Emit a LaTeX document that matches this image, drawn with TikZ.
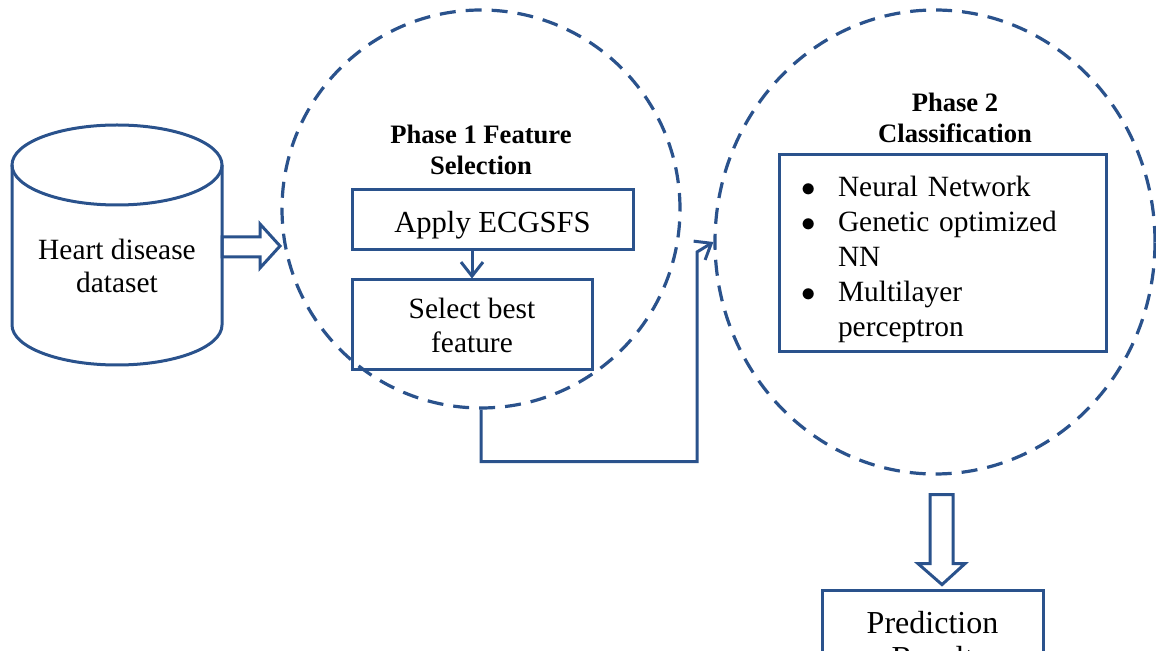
\documentclass[tikz,border=0pt]{standalone}
\usepackage{fontspec}
\setmainfont{Liberation Serif}
\usetikzlibrary{shapes.geometric,arrows.meta}
\definecolor{lineblue}{RGB}{42,82,140}

\tikzset{
  box/.style={draw=lineblue, line width=1.5pt, align=center, inner sep=0pt,
    font=\fontsize{14.7}{17}\selectfont},
  phase/.style={draw=lineblue, line width=1.6pt, dash pattern=on 8pt off 5pt},
  title/.style={align=center, font=\fontsize{13.3}{15.5}\selectfont\bfseries},
  hollow/.style={draw=lineblue, line width=1.5pt, line join=miter},
  conn/.style={draw=lineblue, line width=1.5pt, -{Straight Barb[length=7pt,width=11pt]}},
}

\begin{document}
\begin{tikzpicture}[x=0.5pt, y=-0.5pt]
  \clip (0,0) rectangle (1156,651);
  % Phases
  \node[phase, circle, minimum size=199pt] (p1) at (481,209) {};
  \node[phase, ellipse, minimum width=220pt, minimum height=232pt] (p2) at (935,242) {};
  % Data
  \node[minimum width=105pt, minimum height=120pt, inner sep=0pt, outer sep=0pt] (data) at (117,245) {};
  \draw[hollow] (data.north west) ++(0,40) -- ++(0,160)
    arc[start angle=180, end angle=0, x radius=105, y radius=40] -- ++(0,-160);
  \draw[hollow] (data.north) ++(0,40) ellipse [x radius=105, y radius=40];
  \node[align=center, font=\fontsize{14.7}{16.5}\selectfont] (dataname) at (117,266) {Heart disease\\dataset};
  \draw[hollow] (data.east) ++(0,-8) -- ++(38,0) -- ++(0,-13) -- ++(20,22) -- ++(-20,22)
    -- ++(0,-11) -- ++(-38,0) -- cycle;
  % Phase 1
  \node[title] (t1) at (481,149.5) {Phase 1 Feature\\Selection};
  \node[box, minimum width=140.5pt, minimum height=30pt, font=\fontsize{15.3}{17}\selectfont,
    text height=14.8pt, text depth=2pt] (apply) at (492.5,220) {Apply ECGSFS};
  \node[box, minimum width=120pt, minimum height=45pt] (select) at (472,325) {Select best\\feature};
  \draw[conn] (apply.south -| select.north) -- (select.north);
  % Phase 2
  \node[title] (t2) at (955,117.5) {Phase 2\\Classification};
  \node[box, minimum width=163.5pt, minimum height=98.5pt, text width=139.5pt, inner xsep=12pt,
    align=left, font=\fontsize{14.7}{17.5}\selectfont] (methods) at (942.5,253.5)
    {\begin{tabular}{@{}p{17.5pt}@{}l@{}}
      \hspace*{-1pt}$\bullet$ & Neural Network\rule{0pt}{18pt}\\
      \hspace*{-1pt}$\bullet$ & Genetic optimized\\
                & NN\\
      \hspace*{-1pt}$\bullet$ & Multilayer\\
                & perceptron
    \end{tabular}};
  % Edges
  \draw[conn] (p1.south) -- ++(0,52) coordinate (c1) -| (697,252) -- (p2.west);
  \draw[hollow] (p2.south) ++(-5,19) -- ++(23,0) -- ++(0,69) -- ++(12,0) -- ++(-23,21)
    -- ++(-24,-21) -- ++(12,0) -- cycle;
  \node[box, minimum width=110.5pt, minimum height=50pt, font=\fontsize{16}{17.5}\selectfont]
    (pred) at (932.5,640) {Prediction\\Result};
\end{tikzpicture}
\end{document}
